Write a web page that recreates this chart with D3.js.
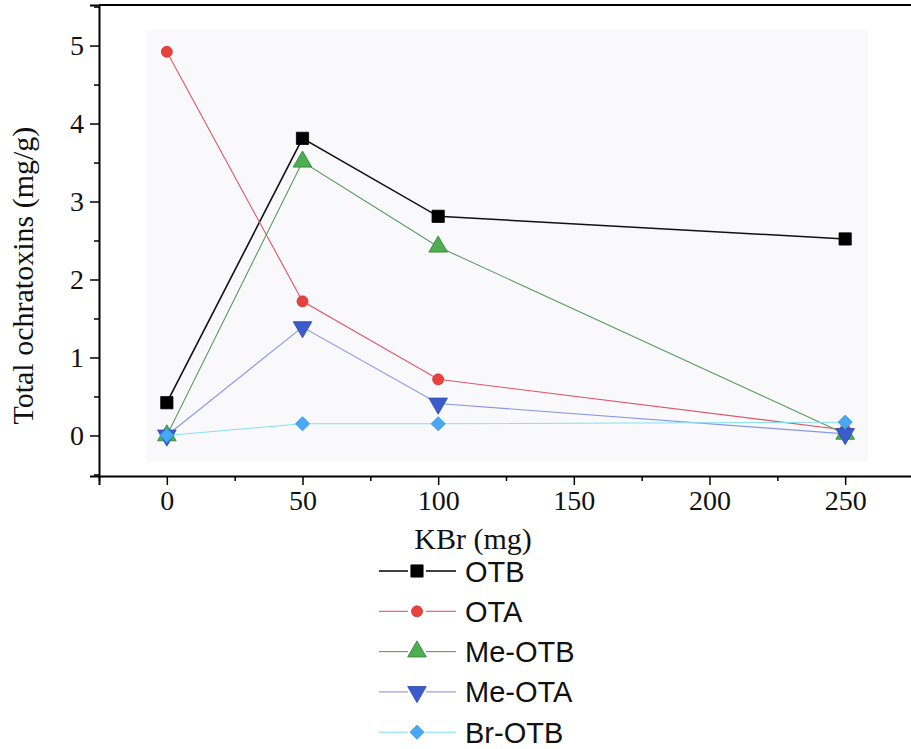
<!DOCTYPE html>
<html><head><meta charset="utf-8">
<script src="https://cdn.jsdelivr.net/npm/d3@7"></script>
<style>body{margin:0;background:#fff}svg{display:block}</style>
</head><body>
<svg id="c" width="911" height="749"></svg>
<script>
const xValues = [0, 50, 100, 250];
const seriesNames = ["OTB", "OTA", "Me-OTB", "Me-OTA", "Br-OTB"];
const otb   = [0.42, 3.81, 2.81, 2.52];
const ota   = [4.92, 1.72, 0.72, 0.07];
const meOtb = [0.0, 3.51, 2.42, 0.02];
const meOta = [0.0, 1.39, 0.41, 0.02];
const brOtb = [0.0, 0.15, 0.15, 0.17];
const xTicks = [0, 50, 100, 150, 200, 250];
const yTicks = [0, 1, 2, 3, 4, 5];
const xLabel = "KBr (mg)";
const yLabel = "Total ochratoxins (mg/g)";

const series = [
  {name: seriesNames[0], vals: otb,   line: "#111", fill: "#000", stroke: "#000", sym: d3.symbolSquare, size: 150, rot: 0, lw: 1.6},
  {name: seriesNames[1], vals: ota,   line: "#e25566", fill: "#e8423f", stroke: "#d03030", sym: d3.symbolCircle, size: 95, rot: 0, lw: 1.1},
  {name: seriesNames[2], vals: meOtb, line: "#5c9c5c", fill: "#4cae50", stroke: "#2f7d33", sym: d3.symbolTriangle, size: 150, rot: 0, lw: 1.1},
  {name: seriesNames[3], vals: meOta, line: "#8a96e6", fill: "#3c5ccc", stroke: "#2a48b0", sym: d3.symbolTriangle, size: 150, rot: 180, lw: 1.1},
  {name: seriesNames[4], vals: brOtb, line: "#86e0f0", fill: "#48a8f2", stroke: "#3a98e6", sym: d3.symbolSquare, size: 100, rot: 45, lw: 1.1}
];

const svg = d3.select("#c");
const L = 99, R = 913, T = 5, B = 476;
const x = d3.scaleLinear().domain([-25, 275]).range([L, R]);
const y = d3.scaleLinear().domain([-0.52, 5.52]).range([B, T]);

// faint scan background
svg.append("rect").attr("x", x(-7.5)).attr("y", y(5.2)).attr("width", x(258.5) - x(-7.5)).attr("height", y(-0.34) - y(5.2)).attr("fill", "#f9f9fb");

// axes
const serif = "'Liberation Serif','Times New Roman',serif";
const yAxis = d3.axisLeft(y).tickValues(yTicks).tickSize(9).tickPadding(6).tickFormat(d3.format("d"));
const yMinor = d3.axisLeft(y).tickValues(d3.range(-0.5, 5.6, 0.5).filter(v => Math.abs(v - Math.round(v)) > 0.01)).tickSize(5).tickFormat("");
const xAxis = d3.axisBottom(x).tickValues(xTicks).tickSize(9).tickPadding(5).tickFormat(d3.format("d"));
const xMinor = d3.axisBottom(x).tickValues([-25, 25, 75, 125, 175, 225, 275]).tickSize(5).tickFormat("");

const gy = svg.append("g").attr("transform", `translate(${L},0)`).call(yAxis);
svg.append("g").attr("transform", `translate(${L},0)`).call(yMinor).select(".domain").remove();
const gx = svg.append("g").attr("transform", `translate(0,${B})`).call(xAxis);
svg.append("g").attr("transform", `translate(0,${B})`).call(xMinor).select(".domain").remove();
[gy, gx].forEach(g => {
  g.select(".domain").attr("stroke", "#000").attr("stroke-width", 2);
  g.selectAll(".tick text").attr("font-family", serif).attr("font-size", 28).attr("fill", "#111");
});
svg.selectAll("g .tick line").attr("stroke", "#000").attr("stroke-width", 1.5);
// top frame
svg.append("line").attr("x1", L).attr("x2", R).attr("y1", T).attr("y2", T).attr("stroke", "#000").attr("stroke-width", 2);

// axis titles
svg.append("text").attr("x", 473).attr("y", 549).attr("text-anchor", "middle")
  .attr("font-family", serif).attr("font-size", 30).attr("fill", "#111").text(xLabel);
svg.append("text").attr("transform", `translate(33,${y(2.05)}) rotate(-90)`).attr("text-anchor", "middle")
  .attr("font-family", serif).attr("font-size", 30).attr("fill", "#111").text(yLabel);

// lines and markers
const line = d3.line().x((d, i) => x(xValues[i])).y(d => y(d));
series.forEach(s => {
  svg.append("path").datum(s.vals).attr("d", line).attr("fill", "none").attr("stroke", s.line).attr("stroke-width", s.lw);
});
series.forEach(s => {
  const sym = d3.symbol().type(s.sym).size(s.size);
  svg.append("g").selectAll("path").data(s.vals).join("path")
    .attr("d", sym)
    .attr("transform", (d, i) => `translate(${x(xValues[i])},${y(d)}) rotate(${s.rot})`)
    .attr("fill", s.fill).attr("stroke", s.stroke).attr("stroke-width", 0.8);
});

// legend
const sans = "'Liberation Sans',Arial,sans-serif";
const lg = svg.append("g");
series.forEach((s, i) => {
  const cy = 571 + i * 40.3;
  const g = lg.append("g").attr("transform", `translate(0,${cy})`);
  g.append("line").attr("x1", 379).attr("x2", 408).attr("y1", 0).attr("y2", 0).attr("stroke", s.line).attr("stroke-width", s.lw);
  g.append("line").attr("x1", 426).attr("x2", 456).attr("y1", 0).attr("y2", 0).attr("stroke", s.line).attr("stroke-width", s.lw);
  g.append("path").attr("d", d3.symbol().type(s.sym).size(s.size)).attr("transform", `translate(417,0) rotate(${s.rot})`)
    .attr("fill", s.fill).attr("stroke", s.stroke).attr("stroke-width", 0.8);
  g.append("text").attr("x", 465).attr("y", 10.5).attr("font-family", sans).attr("font-size", 29).attr("fill", "#111").text(s.name);
});
</script>
</body></html>
